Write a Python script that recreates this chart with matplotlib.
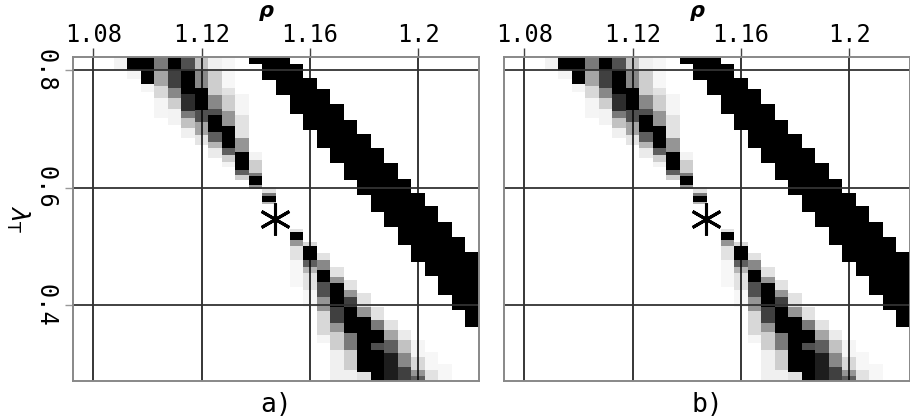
import numpy as np
import matplotlib
matplotlib.use('Agg')
import matplotlib.pyplot as plt

plt.rcParams['font.family'] = ['DejaVu Sans Mono', 'DejaVu Sans']

# axis ranges of the raster
rho_min, rho_max = 1.0725, 1.2225
lam_min, lam_max = 0.2715, 0.822
n_cols = 30          # rho columns, 0.005 wide

rho_ticks = [1.08, 1.12, 1.16, 1.2]
rho_labels = ['1.08', '1.12', '1.16', '1.2']
lam_ticks = [0.8, 0.6, 0.4]
lam_labels = ['0.8', '0.6', '0.4']

# solid black band (column, top, bottom)
band_cols = list(range(13, 30))
band_top = [0.822, 0.822, 0.822, 0.811, 0.786, 0.767, 0.742, 0.716, 0.691,
            0.667, 0.642, 0.616, 0.591, 0.568, 0.542, 0.517, 0.491]
band_bottom = [0.811, 0.783, 0.758, 0.726, 0.698, 0.668, 0.642, 0.613, 0.588,
               0.558, 0.533, 0.503, 0.474, 0.449, 0.418, 0.392, 0.364]

# gray streak, upper part: (column, top, bottom, darkness)
streak_upper = [
    (3, 0.822, 0.800, 0.10),
    (4, 0.822, 0.800, 1.0), (4, 0.800, 0.785, 0.08),
    (5, 0.822, 0.777, 1.0), (5, 0.777, 0.763, 0.08),
    (6, 0.822, 0.800, 0.60), (6, 0.800, 0.772, 0.45), (6, 0.772, 0.752, 0.25),
    (6, 0.752, 0.718, 0.08),
    (7, 0.822, 0.800, 1.0), (7, 0.800, 0.769, 0.80), (7, 0.769, 0.752, 0.55),
    (7, 0.752, 0.735, 0.30), (7, 0.735, 0.707, 0.10),
    (8, 0.822, 0.800, 0.75), (8, 0.800, 0.760, 1.0), (8, 0.760, 0.729, 0.85),
    (8, 0.729, 0.718, 0.60), (8, 0.718, 0.701, 0.35), (8, 0.701, 0.684, 0.12),
    (9, 0.822, 0.800, 0.35), (9, 0.800, 0.769, 0.55), (9, 0.769, 0.732, 1.0),
    (9, 0.732, 0.712, 0.75), (9, 0.712, 0.690, 0.45), (9, 0.690, 0.673, 0.18),
    (10, 0.822, 0.800, 0.12), (10, 0.800, 0.757, 0.30), (10, 0.757, 0.735, 0.55),
    (10, 0.735, 0.7235, 0.75), (10, 0.7235, 0.695, 1.0), (10, 0.695, 0.678, 0.70),
    (10, 0.678, 0.667, 0.40), (10, 0.667, 0.650, 0.15),
    (11, 0.822, 0.769, 0.06), (11, 0.769, 0.757, 0.20), (11, 0.757, 0.729, 0.30),
    (11, 0.729, 0.704, 0.50), (11, 0.704, 0.667, 1.0), (11, 0.667, 0.656, 0.70),
    (11, 0.656, 0.644, 0.30), (11, 0.644, 0.635, 0.10),
    (12, 0.760, 0.7235, 0.08), (12, 0.7235, 0.684, 0.20), (12, 0.684, 0.661, 0.50),
    (12, 0.661, 0.630, 1.0), (12, 0.630, 0.622, 0.70), (12, 0.622, 0.613, 0.30),
    (13, 0.660, 0.647, 0.10), (13, 0.647, 0.625, 0.30), (13, 0.625, 0.621, 0.60),
    (13, 0.621, 0.604, 1.0), (13, 0.604, 0.598, 0.50),
    (14, 0.600, 0.591, 0.20), (14, 0.591, 0.586, 0.60), (14, 0.586, 0.576, 1.0),
    (14, 0.576, 0.572, 0.40),
]

# gray streak, lower part
streak_lower = [
    (16, 0.530, 0.525, 0.20), (16, 0.525, 0.511, 1.0), (16, 0.511, 0.500, 0.50),
    (16, 0.500, 0.477, 0.20), (16, 0.477, 0.430, 0.06),
    (17, 0.508, 0.500, 0.25), (17, 0.500, 0.477, 1.0), (17, 0.477, 0.465, 0.70),
    (17, 0.465, 0.455, 0.40), (17, 0.455, 0.426, 0.20), (17, 0.426, 0.397, 0.07),
    (18, 0.489, 0.477, 0.20), (18, 0.477, 0.460, 0.55), (18, 0.460, 0.440, 1.0),
    (18, 0.440, 0.414, 0.75), (18, 0.414, 0.390, 0.50), (18, 0.390, 0.350, 0.25),
    (18, 0.350, 0.335, 0.08),
    (19, 0.465, 0.448, 0.20), (19, 0.448, 0.438, 0.50), (19, 0.438, 0.397, 1.0),
    (19, 0.397, 0.370, 0.80), (19, 0.370, 0.355, 0.50), (19, 0.355, 0.324, 0.30),
    (19, 0.324, 0.2715, 0.12),
    (20, 0.443, 0.426, 0.20), (20, 0.426, 0.414, 0.50), (20, 0.414, 0.397, 0.80),
    (20, 0.397, 0.353, 1.0), (20, 0.353, 0.324, 0.60), (20, 0.324, 0.290, 0.30),
    (20, 0.290, 0.2715, 0.12),
    (21, 0.421, 0.397, 0.20), (21, 0.397, 0.380, 0.50), (21, 0.380, 0.287, 1.0),
    (21, 0.287, 0.2715, 0.20),
    (22, 0.397, 0.375, 0.20), (22, 0.375, 0.358, 0.60), (22, 0.358, 0.336, 1.0),
    (22, 0.336, 0.324, 0.75), (22, 0.324, 0.2715, 1.0),
    (23, 0.375, 0.358, 0.20), (23, 0.358, 0.341, 0.45), (23, 0.341, 0.319, 0.70),
    (23, 0.319, 0.2715, 0.90),
    (24, 0.358, 0.341, 0.15), (24, 0.341, 0.319, 0.35), (24, 0.319, 0.295, 0.55),
    (24, 0.295, 0.2715, 0.80),
    (25, 0.341, 0.312, 0.08), (25, 0.312, 0.290, 0.25), (25, 0.290, 0.280, 0.50),
    (25, 0.280, 0.2715, 0.70),
    (26, 0.320, 0.290, 0.06), (26, 0.290, 0.2715, 0.20),
    (27, 0.300, 0.2715, 0.06),
]

star_rho, star_lam = 1.1472, 0.547
panel_names = ['a)', 'b)']

# build raster from the segments
n_rows = 440
lam_c = lam_min + (np.arange(n_rows) + 0.5) * (lam_max - lam_min) / n_rows
img = np.zeros((n_rows, n_cols))
for c, t, b in zip(band_cols, band_top, band_bottom):
    img[(lam_c <= t) & (lam_c > b), c] = 1.0
for c, t, b, v in streak_upper + streak_lower:
    sel = (lam_c <= t) & (lam_c > b)
    img[sel, c] = np.maximum(img[sel, c], v)

W, H = 910, 417
fig = plt.figure(figsize=(W / 100, H / 100), dpi=100)

lefts = [73, 504]
for i, name in enumerate(panel_names):
    x0 = lefts[i]
    ax = fig.add_axes([x0 / W, 1 - 381 / H, 406 / W, 324 / H])
    ax.imshow(img, cmap='Greys', vmin=0, vmax=1, origin='lower',
              extent=[rho_min, rho_max, lam_min, lam_max],
              aspect='auto', interpolation='nearest', zorder=1)
    ax.set_xlim(rho_min, rho_max)
    ax.set_ylim(lam_min, lam_max)
    for r in rho_ticks:
        ax.axvline(r, color='black', lw=1.1, zorder=3)
    for l in lam_ticks:
        ax.axhline(l, color='#333333', lw=1.3, zorder=3)
    ax.plot([star_rho], [star_lam], marker=(6, 2, 0), ms=23, mew=2.2,
            color='black', zorder=4)

    ax.xaxis.tick_top()
    ax.set_xticks(rho_ticks)
    ax.set_xticklabels(rho_labels)
    ax.tick_params(axis='x', direction='out', length=6.5, width=1.0,
                   color='#444444', labelsize=17, pad=1)
    ax.set_yticks(lam_ticks)
    if i == 0:
        ax.set_yticklabels(lam_labels, rotation=-90, va='center')
        ax.tick_params(axis='y', direction='out', length=6, width=1.0,
                       color='#999999', labelsize=17, pad=5)
    else:
        ax.set_yticklabels([])
        ax.tick_params(axis='y', length=0)
    for s in ax.spines.values():
        s.set_color('#888888')
        s.set_linewidth(1.4)
        s.set_zorder(5)

    cx = x0 + 203
    fig.text((cx - 10) / W, 1 - 11 / H, 'ρ', fontsize=15, fontstyle='italic',
             fontweight='bold', ha='center', va='center', family='DejaVu Sans')
    fig.text(cx / W, 1 - 405 / H, name, fontsize=19, ha='center', va='center')

fig.text(18 / W, 1 - 219 / H, r'$\lambda_{\rm T}$', fontsize=18, rotation=-90,
         ha='center', va='center', family='DejaVu Sans')

fig.savefig('out.png', dpi=100)
